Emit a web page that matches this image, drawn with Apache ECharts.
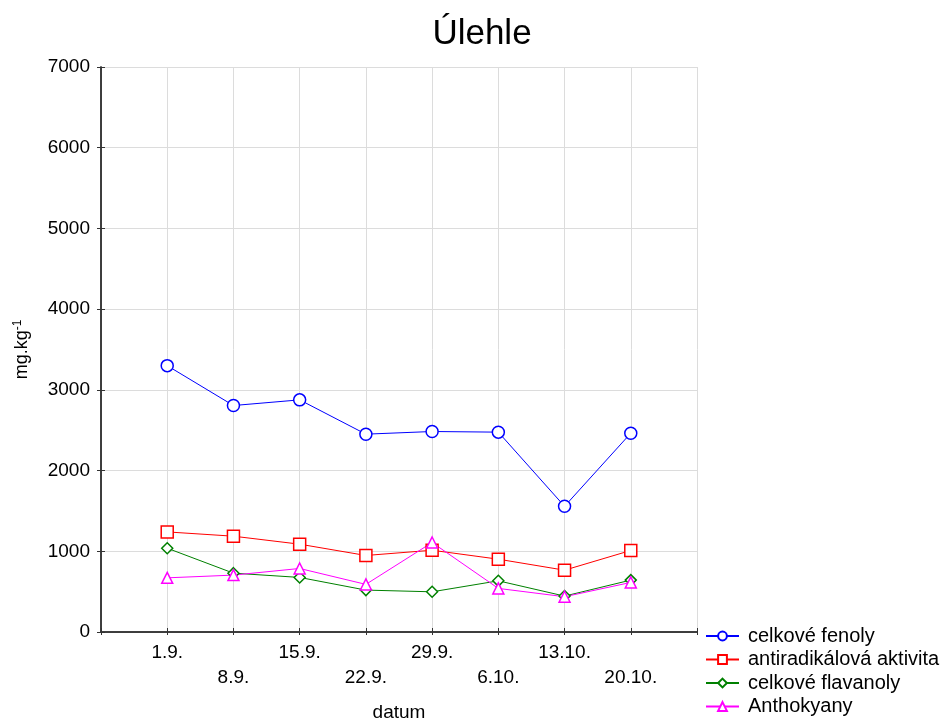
<!DOCTYPE html>
<html>
<head>
<meta charset="utf-8">
<script src="https://cdn.jsdelivr.net/npm/echarts@6/dist/echarts.min.js"></script>
<style>
  html, body { margin: 0; padding: 0; background: #fff; }
  #chart { width: 946px; height: 720px; }
</style>
</head>
<body>
<div id="chart"></div>
<script>
// data
var dates = ['1.9.', '8.9.', '15.9.', '22.9.', '29.9.', '6.10.', '13.10.', '20.10.'];
var fenoly = [3300, 2806, 2876, 2451, 2484, 2476, 1557, 2463];
var antiradikal = [1240, 1187, 1088, 948, 1013, 902, 766, 1010];
var flavanoly = [1038, 729, 676, 519, 498, 634, 445, 643];
var anthokyany = [671, 705, 787, 590, 1109, 540, 437, 614];
var yTicks = [0, 1000, 2000, 3000, 4000, 5000, 6000, 7000];

var FONT = '"Liberation Sans", Arial, sans-serif';
var axisColor = '#333';
var gridColor = '#dcdcdc';

// x positions 1..8 on a 0..9 value axis
function pts(arr) {
  return arr.map(function (v, i) { return [i + 1, v]; });
}

function mkSeries(name, data, color, symbol, size) {
  return {
    name: name,
    type: 'line',
    data: pts(data),
    symbol: symbol,
    symbolSize: size,
    showAllSymbol: true,
    lineStyle: { color: color, width: 1 },
    itemStyle: { color: '#fff', borderColor: color, borderWidth: 1.5 },
    emphasis: { disabled: true },
    animation: false
  };
}

var chart = echarts.init(document.getElementById('chart'));
chart.setOption({
  backgroundColor: '#fff',
  textStyle: { fontFamily: FONT },
  title: {
    text: 'Úlehle',
    left: 477,
    textAlign: 'center',
    top: 12,
    textStyle: { fontSize: 35, fontWeight: 'normal', color: '#000', fontFamily: FONT }
  },
  grid: { left: 101, right: 249, top: 67, bottom: 88, outerBoundsMode: 'none', containLabel: false },
  legend: {
    orient: 'vertical',
    left: 705,
    top: 626,
    padding: 0,
    itemWidth: 33,
    itemHeight: 11,
    itemGap: 3.5,
    textStyle: { fontSize: 20, lineHeight: 20, color: '#000', fontFamily: FONT, padding: [0, 0, 0, 4] },
    data: ['celkové fenoly', 'antiradikálová aktivita', 'celkové flavanoly', 'Anthokyany']
  },
  xAxis: [{
    type: 'value',
    min: 0, max: 9, interval: 1,
    position: 'bottom',
    name: 'datum',
    nameLocation: 'middle',
    nameGap: 71,
    nameTextStyle: { fontSize: 19, color: '#000' },
    axisLine: { show: true, lineStyle: { color: axisColor, width: 1.5 } },
    axisTick: { show: true, inside: true, length: 4, lineStyle: { color: axisColor } },
    splitLine: { show: true, lineStyle: { color: gridColor, width: 1 } },
    axisLabel: {
      margin: 8,
      fontSize: 19,
      color: '#000',
      lineHeight: 25,
      showMinLabel: true,
      showMaxLabel: true,
      formatter: function (v) {
        var i = Math.round(v) - 1;
        if (i < 0 || i >= dates.length) return '';
        return i % 2 === 1 ? '\n' + dates[i] : dates[i];
      }
    }
  }, {
    type: 'value',
    min: 0, max: 9, interval: 1,
    position: 'top',
    axisLine: { show: true, lineStyle: { color: axisColor, width: 1.5 } },
    axisTick: { show: true, inside: true, length: 3, lineStyle: { color: axisColor } },
    axisLabel: { show: false },
    splitLine: { show: false }
  }],
  yAxis: [{
    type: 'value',
    min: yTicks[0], max: yTicks[yTicks.length - 1], interval: 1000,
    position: 'left',
    name: '{a|mg.kg}{b|-1}',
    nameLocation: 'middle',
    nameGap: 68,
    nameTextStyle: {
      rich: {
        a: { fontSize: 18, color: '#000', fontFamily: FONT },
        b: { fontSize: 12, color: '#000', fontFamily: FONT, verticalAlign: 'top', padding: [0, 0, 9, 0] }
      }
    },
    axisLine: { show: true, lineStyle: { color: axisColor, width: 1.5 } },
    axisTick: { show: true, inside: true, length: 4, lineStyle: { color: axisColor } },
    splitLine: { show: true, lineStyle: { color: gridColor, width: 1 } },
    axisLabel: {
      fontSize: 19, color: '#000', margin: 11,
      formatter: function (v) { return String(v); }
    }
  }, {
    type: 'value',
    min: yTicks[0], max: yTicks[yTicks.length - 1], interval: 1000,
    position: 'right',
    axisLine: { show: true, lineStyle: { color: axisColor, width: 1.5 } },
    axisTick: { show: true, inside: true, length: 4, lineStyle: { color: axisColor } },
    axisLabel: { show: false },
    splitLine: { show: false }
  }],
  series: [
    mkSeries('celkové fenoly', fenoly, '#0000ff', 'circle', 12),
    mkSeries('antiradikálová aktivita', antiradikal, '#ff0000', 'rect', 12),
    mkSeries('celkové flavanoly', flavanoly, '#008000', 'diamond', 11),
    mkSeries('Anthokyany', anthokyany, '#ff00ff', 'triangle', 11)
  ]
});
</script>
</body>
</html>
